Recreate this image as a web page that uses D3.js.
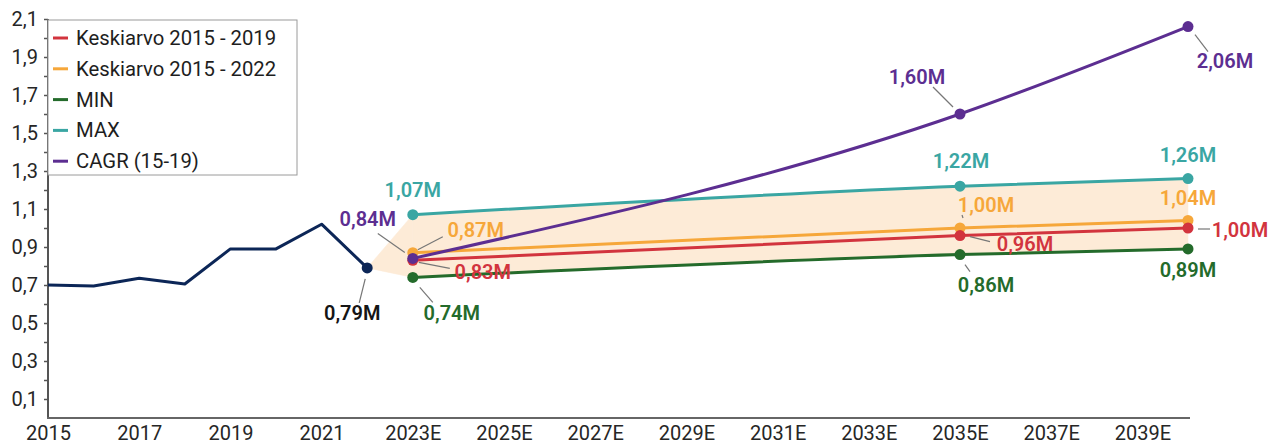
<!DOCTYPE html>
<html>
<head>
<meta charset="utf-8">
<script src="https://cdn.jsdelivr.net/npm/d3@7"></script>
<style>
  html, body { margin: 0; padding: 0; background: #fff; }
  svg { display: block; font-family: Roboto, "Noto Sans", sans-serif; }
</style>
</head>
<body>
<svg id="chart" width="1279" height="445"></svg>
<script>
// Categories
const years = ['2015','2016','2017','2018','2019','2020','2021','2022',
  '2023E','2024E','2025E','2026E','2027E','2028E','2029E','2030E','2031E',
  '2032E','2033E','2034E','2035E','2036E','2037E','2038E','2039E','2040E'];
const tickYears = years.filter((d, i) => i % 2 === 0);

// Historical series (millions)
const historyYears = ['2015','2016','2017','2018','2019','2020','2021','2022'];
const historyValues = [0.70, 0.695, 0.735, 0.705, 0.89, 0.89, 1.02, 0.79];

// Forecast series
const forecastYears = ['2023E', '2035E', '2040E'];
const avg1519 = [0.83, 0.96, 1.00];
const avg1522 = [0.87, 1.00, 1.04];
const minValues = [0.74, 0.86, 0.89];
const maxValues = [1.07, 1.22, 1.26];
const cagrValues = [0.84, 1.60, 2.06];

const seriesNames = ['Keskiarvo 2015 - 2019', 'Keskiarvo 2015 - 2022', 'MIN', 'MAX', 'CAGR (15-19)'];

// Styles
const colors = {
  history: '#0c2657',
  avg1519: '#d2343e',
  avg1522: '#f6a73a',
  min: '#246b2b',
  max: '#3aa6a3',
  cagr: '#5c2e91'
};
const legendColors = [colors.avg1519, colors.avg1522, colors.min, colors.max, colors.cagr];

const svg = d3.select('#chart');
const x = d3.scalePoint().domain(years).range([48, 1188]);
const y = d3.scaleLinear().domain([0, 2.1]).range([418, 19]);

const fmt = v => d3.format('.2f')(v).replace('.', ',') + 'M';

// Band between MIN and MAX, fanning out from last actual value
const bandColor = '#fdebd7';
const lastIdx = historyValues.length - 1;
const fan = [
  { year: historyYears[lastIdx], lo: historyValues[lastIdx], hi: historyValues[lastIdx] },
  { year: forecastYears[0], lo: minValues[0], hi: maxValues[0] }
];
const band = forecastYears.map((yr, i) => ({ year: yr, lo: minValues[i], hi: maxValues[i] }));
const linearArea = d3.area().x(d => x(d.year)).y0(d => y(d.lo)).y1(d => y(d.hi));
svg.append('path').attr('d', linearArea(fan)).attr('fill', bandColor)
  .attr('stroke', bandColor).attr('stroke-width', 0.5);
svg.append('path').attr('d', linearArea.curve(d3.curveMonotoneX)(band)).attr('fill', bandColor)
  .attr('stroke', bandColor).attr('stroke-width', 0.5);

// Axes
const yAxis = d3.axisLeft(y)
  .tickValues(d3.range(1, 22).map(d => d / 10))
  .tickSize(4)
  .tickFormat(d => Math.round(d * 10) % 2 === 1 ? d3.format('.1f')(d).replace('.', ',') : '');
const gy = svg.append('g').attr('transform', 'translate(48,0)').call(yAxis);
gy.select('.domain').attr('stroke', '#555').attr('stroke-width', 2).attr('d', 'M0,19V418');
gy.selectAll('.tick line').attr('stroke', '#555').attr('stroke-width', 1.5);
gy.selectAll('.tick text').attr('x', -10).attr('font-size', 20).attr('fill', '#262626')
  .attr('font-family', 'Roboto');

const xAxis = d3.axisBottom(x).tickValues(tickYears).tickSize(0).tickPadding(8);
const gx = svg.append('g').attr('transform', 'translate(0,418)').call(xAxis);
gx.select('.domain').attr('stroke', '#666').attr('stroke-width', 2).attr('d', 'M47,0H1190');
gx.selectAll('.tick text').attr('font-size', 20).attr('fill', '#262626').attr('font-family', 'Roboto');

// Lines
const line = d3.line().x(d => x(d.year)).y(d => y(d.v));
const hist = historyYears.map((yr, i) => ({ year: yr, v: historyValues[i] }));
svg.append('path').attr('d', line(hist)).attr('fill', 'none')
  .attr('stroke', colors.history).attr('stroke-width', 3).attr('stroke-linejoin', 'round');

const forecast = [
  { key: 'max', values: maxValues },
  { key: 'avg1522', values: avg1522 },
  { key: 'avg1519', values: avg1519 },
  { key: 'min', values: minValues },
  { key: 'cagr', values: cagrValues }
];
const curveLine = d3.line().x(d => x(d.year)).y(d => y(d.v)).curve(d3.curveMonotoneX);
forecast.forEach(s => {
  const pts = forecastYears.map((yr, i) => ({ year: yr, v: s.values[i] }));
  svg.append('path').attr('d', curveLine(pts)).attr('fill', 'none')
    .attr('stroke', colors[s.key]).attr('stroke-width', 3);
});

// Label layout: offsets from the point for text centre and leader line
const labelLayout = {
  'history-2022': { dx: -15, dy: 45, leader: [-2, 11, -8, 35], color: '#151515' },
  'cagr-2023E': { dx: -45, dy: -39, leader: [-35, -25, -8, -6] },
  'max-2023E': { dx: 0, dy: -25 },
  'avg1522-2023E': { dx: 63, dy: -23, leader: [5, -3, 30, -16] },
  'avg1519-2023E': { dx: 70, dy: 12, leader: [6, 2, 37, 8] },
  'min-2023E': { dx: 39, dy: 36, leader: [7, 10, 20, 25] },
  'cagr-2035E': { dx: -43, dy: -37, leader: [-27, -27, -7, -7] },
  'cagr-2040E': { dx: 37, dy: 34, leader: [7, 8, 20, 25] },
  'max-2035E': { dx: 1, dy: -25 },
  'max-2040E': { dx: 0, dy: -24 },
  'avg1522-2035E': { dx: 26, dy: -23, leader: [2, -13, 3, -10] },
  'avg1522-2040E': { dx: 0, dy: -22 },
  'avg1519-2035E': { dx: 65, dy: 8, leader: [10, 1, 30, 6] },
  'avg1519-2040E': { dx: 52, dy: 2, leader: [10, 1, 22, 1] },
  'min-2035E': { dx: 26, dy: 30, leader: [5, 10, 10, 17] },
  'min-2040E': { dx: 0, dy: 21 }
};

const points = [{ key: 'history', year: historyYears[lastIdx], v: historyValues[lastIdx] }];
// draw order keeps purple on top at 2023E
['max', 'avg1522', 'avg1519', 'min', 'cagr'].forEach(k => {
  const s = forecast.find(f => f.key === k);
  forecastYears.forEach((yr, i) => points.push({ key: k, year: yr, v: s.values[i] }));
});

const leaders = svg.append('g');
const dots = svg.append('g');
const labels = svg.append('g');
points.forEach(p => {
  const px = x(p.year), py = y(p.v);
  const lay = labelLayout[p.key + '-' + p.year];
  if (lay && lay.leader) {
    const [x1, y1, x2, y2] = lay.leader;
    leaders.append('line')
      .attr('x1', px + x1).attr('y1', py + y1).attr('x2', px + x2).attr('y2', py + y2)
      .attr('stroke', '#777').attr('stroke-width', 1.2);
  }
  dots.append('circle').attr('cx', px).attr('cy', py).attr('r', 5.5).attr('fill', colors[p.key]);
  if (lay) {
    labels.append('text')
      .attr('x', px + lay.dx).attr('y', py + lay.dy)
      .attr('text-anchor', 'middle').attr('dominant-baseline', 'central')
      .attr('font-size', 20).attr('font-weight', 600)
      .attr('fill', lay.color || colors[p.key])
      .text(fmt(p.v));
  }
});

// Legend
const legend = svg.append('g');
legend.append('rect').attr('x', 48).attr('y', 20).attr('width', 249).attr('height', 155)
  .attr('fill', '#fff').attr('stroke', '#9a9a9a').attr('stroke-width', 1);
seriesNames.forEach((name, i) => {
  const ly = 38 + i * 30.8;
  legend.append('line').attr('x1', 53).attr('x2', 68).attr('y1', ly).attr('y2', ly)
    .attr('stroke', legendColors[i]).attr('stroke-width', 3);
  legend.append('text').attr('x', 76).attr('y', ly).attr('dominant-baseline', 'central')
    .attr('font-size', 20.3).attr('fill', '#1e1e1e').text(name);
});
</script>
</body>
</html>
